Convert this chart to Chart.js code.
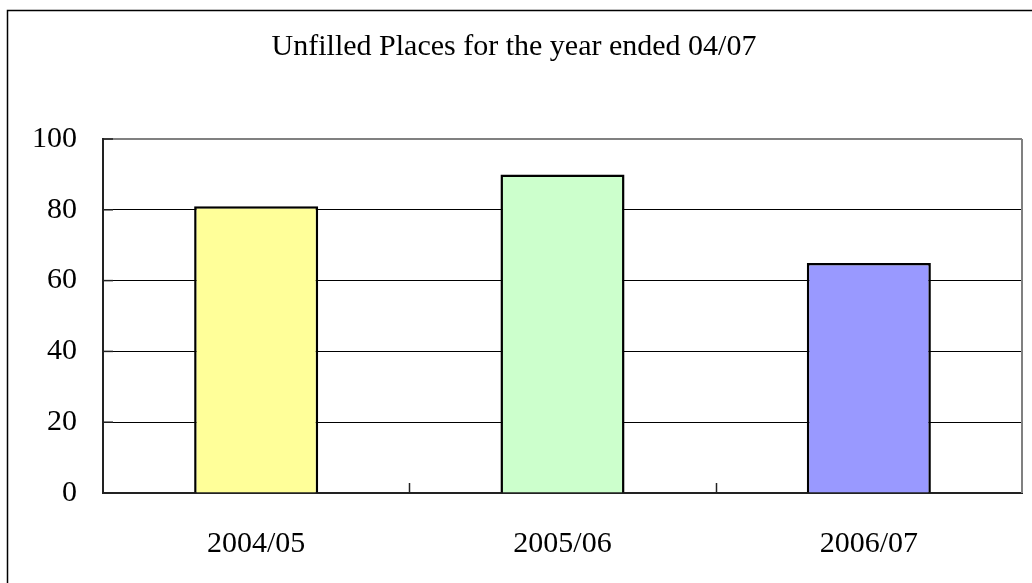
<!DOCTYPE html>
<html>
<head>
<meta charset="utf-8">
<script src="https://cdn.jsdelivr.net/npm/chart.js@4"></script>
<style>
  html, body { margin: 0; padding: 0; background: #fff; }
  #wrap { width: 1032px; height: 583px; }
</style>
</head>
<body>
<div id="wrap"><canvas id="unfilledChart"></canvas></div>
<script>
// 数据
const years = ['2004/05', '2005/06', '2006/07'];
const unfilled = [81, 90, 65];
const barColors = ['#FFFF99', '#CCFFCC', '#9999FF'];
const titleText = 'Unfilled Places for the year ended 04/07';

const serif = "'Liberation Serif', 'Times New Roman', serif";

// 外框 + 右边灰线 + 内向刻度
const framePlugin = {
  id: 'frame',
  afterDraw(chart) {
    const ctx = chart.ctx;
    const a = chart.chartArea;
    const x = chart.scales.x;
    const y = chart.scales.y;
    ctx.save();
    // outer border (only top/left visible)
    ctx.strokeStyle = '#000';
    ctx.lineWidth = 1.5;
    ctx.beginPath();
    ctx.moveTo(7.5, chart.height);
    ctx.lineTo(7.5, 10.5);
    ctx.lineTo(chart.width, 10.5);
    ctx.stroke();
    // right side of plot area
    ctx.strokeStyle = '#808080';
    ctx.lineWidth = 2;
    ctx.beginPath();
    ctx.moveTo(a.right, a.top);
    ctx.lineTo(a.right, a.bottom);
    ctx.stroke();
    // inward ticks
    ctx.strokeStyle = '#222';
    ctx.lineWidth = 1.5;
    for (let i = 0; i < years.length - 1; i++) {
      const px = Math.round((x.getPixelForValue(i) + x.getPixelForValue(i + 1)) / 2) + 0.5;
      ctx.beginPath();
      ctx.moveTo(px, a.bottom);
      ctx.lineTo(px, a.bottom - 10);
      ctx.stroke();
    }
    y.ticks.forEach(t => {
      const py = y.getPixelForValue(t.value);
      ctx.beginPath();
      ctx.moveTo(a.left, py);
      ctx.lineTo(a.left + 10, py);
      ctx.stroke();
    });
    ctx.restore();
  }
};

new Chart(document.getElementById('unfilledChart'), {
  type: 'bar',
  data: {
    labels: years,
    datasets: [{
      data: unfilled,
      backgroundColor: barColors,
      borderColor: '#000',
      borderWidth: 2.5,
      categoryPercentage: 1,
      barPercentage: 0.405
    }]
  },
  options: {
    responsive: true,
    maintainAspectRatio: false,
    animation: false,
    layout: { padding: { top: 0, right: 10, bottom: 20, left: 6 } },
    plugins: {
      legend: { display: false },
      tooltip: { enabled: false },
      title: {
        display: true,
        text: titleText,
        color: '#000',
        font: { family: serif, size: 30, weight: 'normal' },
        padding: { top: 29, bottom: 74 }
      }
    },
    scales: {
      x: {
        afterFit(scale) { scale.height = 70; },
        grid: { display: false, drawTicks: false },
        border: { color: '#222', width: 2 },
        ticks: {
          color: '#000',
          padding: 33,
          font: { family: serif, size: 30 }
        }
      },
      y: {
        min: 0,
        max: 100,
        afterFit(scale) { scale.width = 97; },
        grid: {
          drawTicks: false,
          color: ctx => ctx.tick && ctx.tick.value === 100 ? '#808080' : '#000',
          lineWidth: ctx => ctx.tick && ctx.tick.value === 100 ? 2 : 1
        },
        border: { color: '#222', width: 2 },
        ticks: {
          stepSize: 20,
          color: '#000',
          padding: 26,
          font: { family: serif, size: 30 }
        }
      }
    }
  },
  plugins: [framePlugin]
});
</script>
</body>
</html>
